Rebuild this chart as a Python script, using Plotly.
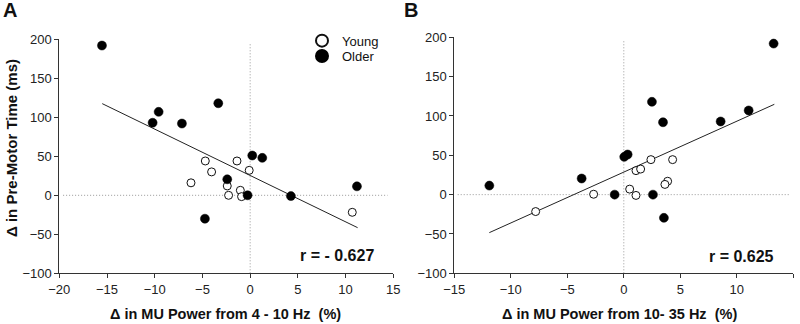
import plotly.graph_objects as go

# Panel A: change in MU power 4-10 Hz (%) vs change in pre-motor time (ms)
a_young_x = [-4.7, -4.04, -6.2, -1.38, -0.1, -2.4, -2.26, -1.03, -0.9, 10.7]
a_young_y = [44, 30, 16, 44, 32, 12, 0, 6.4, -1.7, -21.8]
a_older_x = [-15.53, -9.59, -10.22, -7.15, -3.34, 0.22, 1.27, -2.4, -0.27, 4.27, 11.19, -4.74]
a_older_y = [192, 107, 93, 92, 118, 51, 48, 20.5, 0, -1, 11.5, -30]
a_fit_x = [-15.5, 11.26]
a_fit_y = [117.5, -41.5]

# Panel B: change in MU power 10-35 Hz (%) vs change in pre-motor time (ms)
b_young_x = [-7.8, -2.67, 0.52, 1.08, 1.08, 1.49, 2.4, 4.32, 3.88, 3.64]
b_young_y = [-21.5, 0.5, 7, -1, 30.5, 32.5, 44.5, 44.5, 17, 13]
b_older_x = [13.26, 11.05, 8.57, 3.47, 2.49, 0.34, 0.04, -3.73, -0.81, 2.58, -11.9, 3.55]
b_older_y = [192, 107, 93, 92, 118, 51, 48, 20.5, 0, 0, 11.5, -29.5]
b_fit_x = [-11.9, 13.32]
b_fit_y = [-48.3, 114.8]

x_ticks_a = [-20, -15, -10, -5, 0, 5, 10, 15]
x_ticks_b = [-15, -10, -5, 0, 5, 10, 15]
y_ticks = [-100, -50, 0, 50, 100, 150, 200]

FONT = "Arial, Liberation Sans, sans-serif"
W, H = 800, 324

fig = go.Figure()

def add_panel(xa, ya, yx, yy, ox, oy, fx, fy, legend):
    fig.add_trace(go.Scatter(x=fx, y=fy, mode="lines", xaxis=xa, yaxis=ya,
                             line=dict(color="#222", width=1), showlegend=False,
                             hoverinfo="skip"))
    fig.add_trace(go.Scatter(x=yx, y=yy, mode="markers", name="Young", xaxis=xa, yaxis=ya,
                             marker=dict(symbol="circle", size=8, color="white",
                                         line=dict(color="#111", width=1)),
                             showlegend=legend, legend="legend"))
    fig.add_trace(go.Scatter(x=ox, y=oy, mode="markers", name="Older", xaxis=xa, yaxis=ya,
                             marker=dict(symbol="circle", size=9, color="black",
                                         line=dict(color="black", width=0.5)),
                             showlegend=legend, legend="legend2"))

add_panel("x", "y", a_young_x, a_young_y, a_older_x, a_older_y, a_fit_x, a_fit_y, True)
add_panel("x2", "y2", b_young_x, b_young_y, b_older_x, b_older_y, b_fit_x, b_fit_y, False)

dot = dict(color="#999", width=1, dash="1px,2px")
# zero reference lines
fig.add_shape(type="line", xref="x", yref="y", x0=0, x1=0, y0=-100, y1=195, line=dot, layer="below")
fig.add_shape(type="line", xref="x", yref="y", x0=-19.6, x1=14.4, y0=0, y1=0, line=dot, layer="below")
fig.add_shape(type="line", xref="x2", yref="y2", x0=0, x1=0, y0=-100, y1=197, line=dot, layer="below")
fig.add_shape(type="line", xref="x2", yref="y2", x0=-14.7, x1=14.6, y0=0, y1=0, line=dot, layer="below")

axis_common = dict(showgrid=False, zeroline=False, showline=True, linecolor="#333",
                   linewidth=1, ticks="outside", ticklen=4, tickcolor="#333",
                   automargin=False,
                   tickfont=dict(family=FONT, size=13, color="#222"))

leg_common = dict(xanchor="left", yanchor="middle", bgcolor="rgba(0,0,0,0)",
                  font=dict(family=FONT, size=13, color="#111"), itemsizing="constant",
                  borderwidth=0)

fig.update_layout(
    width=W, height=H,
    margin=dict(l=0, r=0, t=0, b=0, autoexpand=False),
    paper_bgcolor="white", plot_bgcolor="white",
    font=dict(family=FONT, color="#111"),
    xaxis=dict(domain=[59.3 / W, 393.3 / W], range=[-20, 15], tickvals=x_ticks_a,
               anchor="y", **axis_common),
    yaxis=dict(domain=[1 - 273.3 / H, 1 - 39.3 / H], range=[-100, 200], tickvals=y_ticks,
               anchor="x", **axis_common),
    xaxis2=dict(domain=[454.3 / W, 793.3 / W], range=[-15, 15], tickvals=x_ticks_b,
                anchor="y2", **axis_common),
    yaxis2=dict(domain=[1 - 273.3 / H, 1 - 37.3 / H], range=[-100, 200], tickvals=y_ticks,
                anchor="x2", **axis_common),
    legend=dict(x=302 / W, y=1 - 40.7 / H, **leg_common),
    legend2=dict(x=302 / W, y=1 - 56 / H, **leg_common),
    showlegend=True,
)

ann = []
def text(x, y, s, size, bold=False, xanchor="center", **kw):
    ann.append(dict(x=x / W, y=1 - y / H, xref="paper", yref="paper", showarrow=False,
                    text=f"<b>{s}</b>" if bold else s, xanchor=xanchor, yanchor="middle",
                    font=dict(family=FONT, size=size, color="#111"), **kw))

text(1, 10, "A", 20, bold=True, xanchor="left")
text(402, 10, "B", 20, bold=True, xanchor="left")
text(225, 314, "Δ in MU Power from 4 - 10 Hz&nbsp;&nbsp;(%)", 14.5, bold=True)
text(619, 314, "Δ in MU Power from 10- 35 Hz&nbsp;&nbsp;(%)", 14.5, bold=True)
text(11, 148, "Δ in Pre-Motor Time (ms)", 15, bold=True, textangle=-90)
text(376, 255, "r = - 0.627", 16, bold=True, xanchor="right")
text(776, 256, "r = 0.625", 16, bold=True, xanchor="right")
fig.update_layout(annotations=ann)

fig.write_html("out.html", config={"displayModeBar": False},
               post_script="document.body.style.margin='0px';")
